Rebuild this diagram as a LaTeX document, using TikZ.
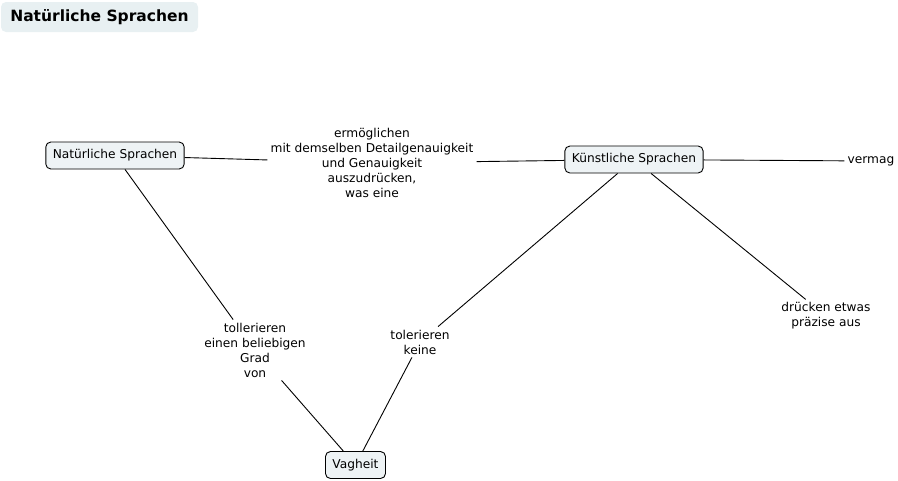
\documentclass[tikz,border=0pt]{standalone}
\usepackage{fontspec}
\setmainfont{DejaVu Sans}
\usetikzlibrary{positioning}
\definecolor{nodefill}{RGB}{238,243,245}
\definecolor{titlefill}{RGB}{232,240,242}

\begin{document}
\begin{tikzpicture}[x=1pt, y=-1pt,
  concept/.style={rectangle, rounded corners=5pt, draw=black, line width=0.9pt, fill=nodefill,
                  minimum height=27pt, inner xsep=7pt, font=\fontsize{12.2}{15}\selectfont},
  linkphrase/.style={rectangle, inner sep=3pt, align=center, font=\fontsize{12.2}{15}\selectfont},
  link/.style={line width=0.9pt, black}
]
\useasboundingbox (0,0) rectangle (898,480);

% Title
\node[rectangle, rounded corners=5pt, fill=titlefill, minimum width=197pt, minimum height=30pt,
      font=\fontsize{15.5}{17}\selectfont\bfseries] (title) at (99.5,17) {Natürliche Sprachen};

% Concepts
\node[concept] (nat) at (115,155.5) {Natürliche Sprachen};
\node[concept] (kun) at (634,159.5) {Künstliche Sprachen};
\node[concept] (vag) at (355.5,465) {Vagheit};

% Linking phrases
\node[linkphrase] (erm) at (372,163) {ermöglichen\\mit demselben Detailgenauigkeit\\und Genauigkeit\\auszudrücken,\\was eine};
\node[linkphrase] (verm) at (871,161) {vermag};
\node[linkphrase] (toll) at (255,350) {tollerieren\\einen beliebigen\\Grad\\von};
\node[linkphrase] (tol) at (420,342) {tolerieren\\keine};
\node[linkphrase] (dru) at (826,316) {drücken etwas\\präzise aus};

% Connectors
\draw[link] (nat) -- (erm);
\draw[link] (erm) -- (kun);
\draw[link] (kun) -- (verm);
\draw[link] (nat) -- (toll);
\draw[link] (toll) -- (vag);
\draw[link] (vag) -- (tol);
\draw[link] (tol) -- (kun);
\draw[link] (kun) -- (dru);
\end{tikzpicture}
\end{document}
